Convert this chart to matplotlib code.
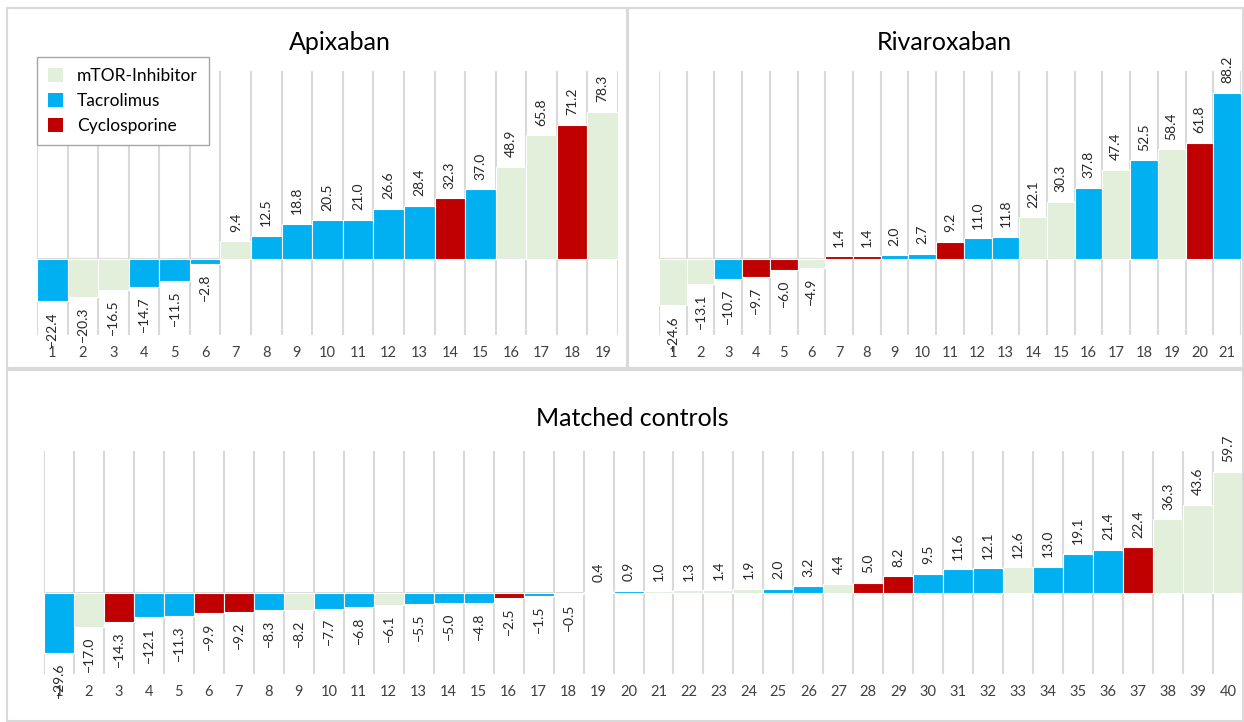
import matplotlib
matplotlib.use('Agg')
import matplotlib.pyplot as plt
from matplotlib.patches import Patch, Rectangle

plt.rcParams['font.family'] = ['Lato', 'DejaVu Sans']

# group codes: M = mTOR-Inhibitor, T = Tacrolimus, C = Cyclosporine
apix_vals = [-22.4, -20.3, -16.5, -14.7, -11.5, -2.8, 9.4, 12.5, 18.8, 20.5,
             21.0, 26.6, 28.4, 32.3, 37.0, 48.9, 65.8, 71.2, 78.3]
apix_grp = list("TMMTTTMTTTTTTCTMMCM")

riva_vals = [-24.6, -13.1, -10.7, -9.7, -6.0, -4.9, 1.4, 1.4, 2.0, 2.7, 9.2,
             11.0, 11.8, 22.1, 30.3, 37.8, 47.4, 52.5, 58.4, 61.8, 88.2]
riva_grp = list("MMTCCMCCTTCTTMMTMTMCT")

ctrl_vals = [-29.6, -17.0, -14.3, -12.1, -11.3, -9.9, -9.2, -8.3, -8.2, -7.7,
             -6.8, -6.1, -5.5, -5.0, -4.8, -2.5, -1.5, -0.5, 0.4, 0.9,
             1.0, 1.3, 1.4, 1.9, 2.0, 3.2, 4.4, 5.0, 8.2, 9.5,
             11.6, 12.1, 12.6, 13.0, 19.1, 21.4, 22.4, 36.3, 43.6, 59.7]
ctrl_grp = list("TMCTTCCTMTTMTTTCTCMTMMMMTTMCCTTTMTTTCMMM")

group_names = {'M': 'mTOR-Inhibitor', 'T': 'Tacrolimus', 'C': 'Cyclosporine'}
group_colors = {'M': '#E2EFDA', 'T': '#00B0F0', 'C': '#C00000'}
grid_col = '#D9D9D9'

W, H = 1244, 722
fig = plt.figure(figsize=(W / 100, H / 100), dpi=100)


def px_axes(x0, y0, x1, y1):
    return fig.add_axes([x0 / W, 1 - y1 / H, (x1 - x0) / W, (y1 - y0) / H])


def draw_panel(ax, vals, grp, title, ylim, title_xy):
    n = len(vals)
    xs = list(range(1, n + 1))
    ax.bar(xs, vals, width=1.0, color=[group_colors[g] for g in grp],
           edgecolor='white', linewidth=0.8, zorder=3)
    for i in range(n + 1):
        ax.axvline(i + 0.5, color=grid_col, lw=1.5, zorder=1)
    ax.axhline(0, color=grid_col, lw=1.5, zorder=2)
    for x, v in zip(xs, vals):
        ax.annotate(f"{v:.1f}".replace('-', '\u2212'), (x, v),
                    xytext=(0, 7 if v >= 0 else -7), textcoords='offset points',
                    rotation=90, ha='center', va='bottom' if v >= 0 else 'top',
                    fontsize=10, color='#262626', zorder=4)
    ax.set_xlim(0.5, n + 0.5)
    ax.set_ylim(*ylim)
    ax.set_xticks(xs)
    ax.set_xticklabels([str(x) for x in xs], fontsize=10.5, color='#404040')
    ax.tick_params(axis='x', length=0, pad=8)
    ax.set_yticks([])
    for s in ax.spines.values():
        s.set_visible(False)
    fig.text(title_xy[0] / W, 1 - title_xy[1] / H, title, ha='center',
             va='center', fontsize=18, color='#000000')


ax1 = px_axes(37, 71, 618, 335)
draw_panel(ax1, apix_vals, apix_grp, 'Apixaban', (-40.4, 100), (340, 43))

ax2 = px_axes(659, 71, 1241, 335)
draw_panel(ax2, riva_vals, riva_grp, 'Rivaroxaban', (-40.4, 100), (944, 43))

ax3 = px_axes(44, 451, 1243, 674)
draw_panel(ax3, ctrl_vals, ctrl_grp, 'Matched controls', (-40, 70), (632, 418))

# panel frames
for (x0, y0, x1, y1) in [(7, 8, 627, 368), (628, 8, 1243, 368), (7, 370, 1243, 721)]:
    fig.add_artist(Rectangle((x0 / W, 1 - y1 / H), (x1 - x0) / W, (y1 - y0) / H,
                             transform=fig.transFigure, fill=False,
                             edgecolor=grid_col, lw=1.5))

handles = [Patch(facecolor=group_colors[k], edgecolor='none', label=group_names[k])
           for k in ['M', 'T', 'C']]
leg = fig.legend(handles=handles, loc='upper left',
                 bbox_to_anchor=(37 / W, 1 - 57 / H), fontsize=12.5,
                 frameon=True, fancybox=False, framealpha=1, borderaxespad=0,
                 handlelength=0.85, handleheight=0.85, handletextpad=0.8,
                 borderpad=0.65, labelspacing=0.5)
leg.get_frame().set_edgecolor('#A6A6A6')
leg.get_frame().set_linewidth(1.0)

fig.savefig('out.png', dpi=100)
